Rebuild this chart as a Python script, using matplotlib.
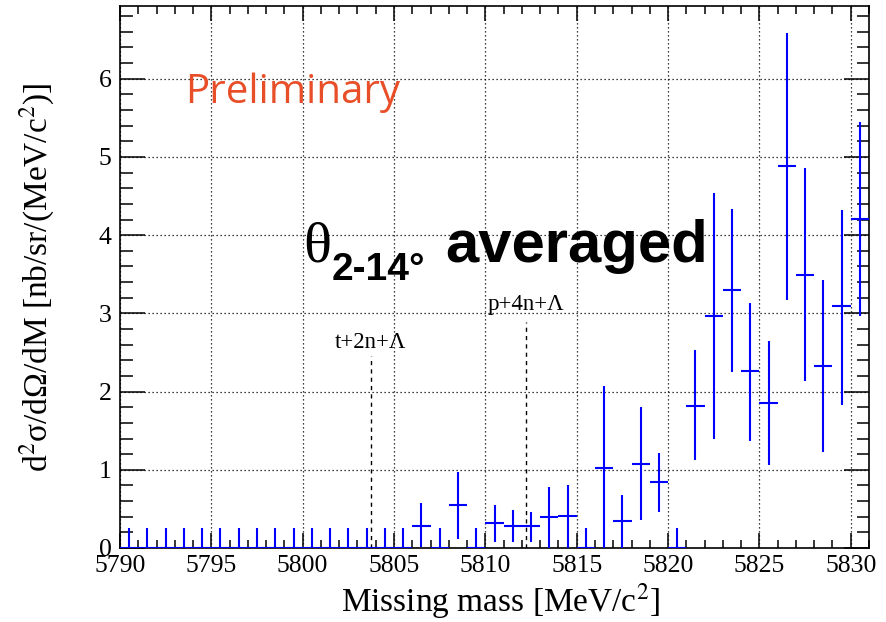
import numpy as np
import matplotlib
matplotlib.use("Agg")
import matplotlib.pyplot as plt
from matplotlib.ticker import MultipleLocator

plt.rcParams['font.family'] = ['Liberation Serif', 'DejaVu Serif']
plt.rcParams['mathtext.fontset'] = 'stix'

# bin centres (1 MeV bins), values and error bar ends
mass = np.arange(5790.5, 5831.0, 1.0)
value = [0, 0, 0, 0, 0, 0, 0, 0, 0, 0, 0, 0, 0, 0, 0, 0,
         0.28, 0, 0.55, 0, 0.32, 0.28, 0.28, 0.39, 0.41, 0,
         1.02, 0.34, 1.08, 0.84, 0,
         1.82, 2.97, 3.30, 2.26, 1.86, 4.88, 3.49, 2.33, 3.09, 4.21]
err_low_end = [0, 0, 0, 0, 0, 0, 0, 0, 0, 0, 0, 0, 0, 0, 0, 0,
               0.01, 0, 0.12, 0, 0.08, 0.08, 0.08, 0.0, 0.0, 0,
               0.0, 0.0, 0.36, 0.46, 0,
               1.12, 1.39, 2.25, 1.37, 1.06, 3.17, 2.14, 1.23, 1.83, 2.97]
err_high_end = [0.25, 0.25, 0.25, 0.25, 0.25, 0.25, 0.25, 0.25, 0.25, 0.25,
                0.25, 0.25, 0.25, 0.25, 0.25, 0.25,
                0.57, 0.25, 0.97, 0.25, 0.55, 0.49, 0.46, 0.78, 0.80, 0.25,
                2.07, 0.68, 1.80, 1.22, 0.25,
                2.53, 4.54, 4.34, 3.13, 2.65, 6.58, 4.86, 3.43, 4.32, 5.45]

thresholds = [5803.73, 5812.21]
threshold_names = ['t+2n+Λ', 'p+4n+Λ']
threshold_tops = [2.45, 2.89]
label_y = [2.56, 3.04]

value = np.array(value)
yerr = [value - np.array(err_low_end), np.array(err_high_end) - value]

fig = plt.figure(figsize=(8.87, 6.22), dpi=100)
ax = fig.add_axes([120/887, 74/622, 749/887, 542/622])

ax.errorbar(mass, value, yerr=yerr, xerr=0.5, fmt='none', ecolor='#0000ff',
            elinewidth=1.5, capsize=0, zorder=3)

for x, top, name, ly in zip(thresholds, threshold_tops, threshold_names, label_y):
    ax.plot([x, x], [0, top], color='black', lw=1.0, ls=(0, (3, 3)), zorder=2)
    ax.text(x, ly, name, ha='center', va='baseline', fontsize=16.5)

ax.set_xlim(5790, 5831)
ax.set_ylim(0, 6.93)
ax.xaxis.set_major_locator(MultipleLocator(5))
ax.xaxis.set_minor_locator(MultipleLocator(1))
ax.yaxis.set_major_locator(MultipleLocator(1))
ax.yaxis.set_minor_locator(MultipleLocator(0.2))
ax.grid(True, which='major', color='black', lw=0.9, ls=(0, (1, 2.2)))
ax.tick_params(which='both', direction='in', top=True, right=True,
               width=1.1, labelsize=18.5, colors='black')
ax.tick_params(axis='x', which='major', length=11, pad=5)
ax.tick_params(axis='x', which='minor', length=5.5)
ax.tick_params(axis='y', which='major', length=18, pad=6)
ax.tick_params(axis='y', which='minor', length=9)
for s in ax.spines.values():
    s.set_linewidth(1.2)

fig.text(501/887, 11/622, r'Missing mass [MeV/c$^2$]', ha='center',
         va='baseline', fontsize=24)
fig.text(37/887, 345/622, r'd$^2$σ/dΩ/dM [nb/sr/(MeV/c$^2$)]',
         ha='center', va='center', rotation=90, fontsize=24)

ax.text(0.087, 0.821, 'Preliminary', transform=ax.transAxes, color='#e84e27',
        fontsize=29, family='Open Sans', va='baseline')
ax.text(0.244, 0.5277, 'θ', transform=ax.transAxes, fontsize=42,
        va='baseline')
ax.text(0.283, 0.4945, '2-14°', transform=ax.transAxes, fontsize=28,
        family='Liberation Sans', weight='bold', va='baseline')
ax.text(0.434, 0.5277, 'averaged', transform=ax.transAxes, fontsize=43,
        family='Liberation Sans', weight='bold', va='baseline')

fig.savefig('out.png', dpi=100)
